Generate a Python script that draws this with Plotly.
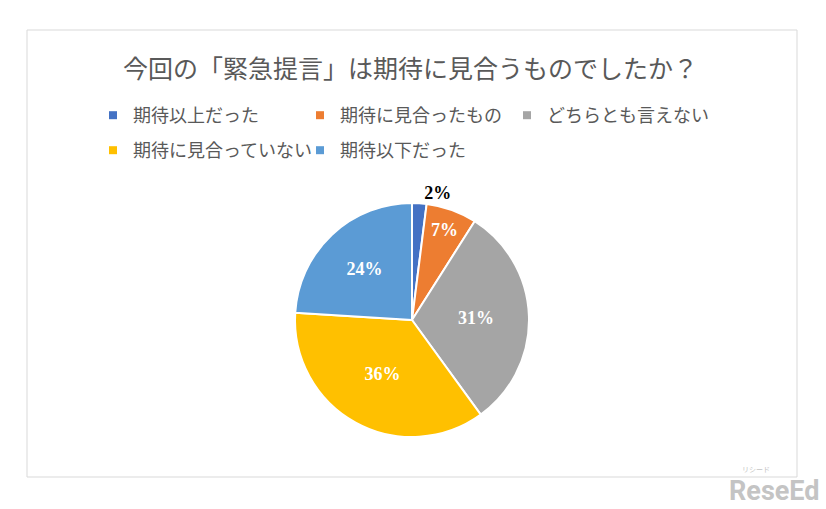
import plotly.graph_objects as go

title_text = "今回の「緊急提言」は期待に見合うものでしたか？"
labels = ["期待以上だった", "期待に見合ったもの", "どちらとも言えない", "期待に見合っていない", "期待以下だった"]
values = [2, 7, 31, 36, 24]
colors = ["#4472C4", "#ED7D31", "#A5A5A5", "#FFC000", "#5B9BD5"]
text_positions = ["outside", "inside", "inside", "inside", "inside"]
text_colors = ["#000000", "#FFFFFF", "#FFFFFF", "#FFFFFF", "#FFFFFF"]
legend_rows = ["legend", "legend", "legend", "legend2", "legend2"]

W, H = 826, 509
cx, cy, r = 412, 320, 117

fig = go.Figure()
fig.add_trace(go.Pie(
    labels=labels,
    values=values,
    sort=False,
    direction="clockwise",
    rotation=0,
    marker=dict(colors=colors, line=dict(color="#FFFFFF", width=2)),
    textinfo="percent",
    texttemplate="%{percent:.0%}",
    textposition=text_positions,
    textfont=dict(family="Liberation Serif", size=18, color=text_colors, weight="bold"),
    insidetextorientation="horizontal",
    hoverinfo="label+percent",
    showlegend=False,
    domain=dict(x=[(cx - r) / W, (cx + r) / W], y=[(H - cy - r) / H, (H - cy + r) / H]),
))

# legend entries (one per category), laid out in two rows like the reference
for lab, col, lg in zip(labels, colors, legend_rows):
    fig.add_trace(go.Scatter(
        x=[None], y=[None], mode="markers", name=lab, legend=lg,
        marker=dict(symbol="square", size=8, color=col),
        hoverinfo="skip", showlegend=True,
    ))

legend_font = dict(family="Noto Sans CJK JP", size=18, color="#595959")
legend_common = dict(orientation="h", xanchor="left", yanchor="top",
                     entrywidth=162, entrywidthmode="pixels", font=legend_font,
                     bgcolor="rgba(0,0,0,0)", itemclick=False, itemdoubleclick=False)

fig.update_layout(
    width=W, height=H,
    margin=dict(l=0, r=0, t=0, b=0, autoexpand=False),
    paper_bgcolor="#FFFFFF",
    plot_bgcolor="rgba(0,0,0,0)",
    font=dict(family="Noto Sans CJK JP", color="#595959"),
    xaxis=dict(visible=False, domain=[0, 1]),
    yaxis=dict(visible=False, domain=[0, 1]),
    title=dict(text=title_text, x=0.497, xanchor="center", y=1 - 69 / H, yanchor="middle",
               font=dict(family="Noto Sans CJK JP", size=25, color="#595959")),
    legend=dict(x=93 / W, y=1 - 97 / H, **legend_common),
    legend2=dict(x=93 / W, y=1 - 132 / H, **legend_common),
    shapes=[dict(type="rect", xref="paper", yref="paper",
                 x0=27 / W, x1=797 / W, y0=(H - 477) / H, y1=(H - 30) / H,
                 line=dict(color="#D9D9D9", width=1), layer="below")],
    annotations=[
        dict(text="<b>ReseEd</b>", xref="paper", yref="paper", x=821 / W, y=(H - 491) / H,
             xanchor="right", yanchor="middle", showarrow=False,
             font=dict(family="Roboto", size=27, color="#C4C4C4")),
        dict(text="リシード", xref="paper", yref="paper", x=756 / W, y=(H - 469) / H,
             xanchor="center", yanchor="middle", showarrow=False,
             font=dict(family="Noto Sans CJK JP", size=7, color="#C4C4C4")),
    ],
)

fig.write_html("out.html", post_script="document.body.style.margin='0';",
               config={"displayModeBar": False})
